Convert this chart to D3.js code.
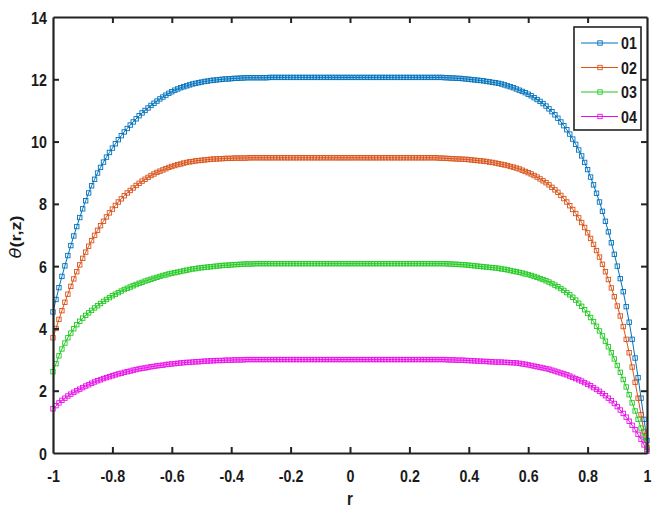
<!DOCTYPE html>
<html>
<head>
<meta charset="utf-8">
<script src="https://cdn.jsdelivr.net/npm/d3@7"></script>
<style>
  html, body { margin: 0; padding: 0; background: #fff; }
  svg { display: block; }
  .lbl { font-family: 'Liberation Sans', Arial, sans-serif; font-weight: bold; fill: #1a1a1a; }
</style>
</head>
<body>
<div id="chart"></div>
<script>
// Radial grid r = -1 ... 1 in steps of 0.01 (201 samples)
const rGrid = d3.range(201).map(i => Math.round((-1 + i * 0.01) * 100) / 100);

const seriesNames = ["01", "02", "03", "04"];

const theta01 = [
  4.53,4.93,5.31,5.67,6.01,6.34,6.66,6.97,7.27,7.56,
  7.84,8.10,8.35,8.58,8.79,8.99,9.17,9.34,9.50,9.65,
  9.79,9.93,10.06,10.19,10.31,10.42,10.53,10.63,10.73,10.83,
  10.92,11.00,11.08,11.16,11.23,11.30,11.37,11.43,11.49,11.55,
  11.60,11.65,11.69,11.73,11.76,11.79,11.82,11.85,11.87,11.89,
  11.91,11.93,11.94,11.96,11.97,11.98,11.99,12.00,12.01,12.01,
  12.02,12.03,12.03,12.04,12.04,12.05,12.05,12.05,12.05,12.05,
  12.05,12.05,12.05,12.06,12.06,12.06,12.06,12.06,12.06,12.06,
  12.06,12.06,12.06,12.06,12.06,12.06,12.06,12.06,12.06,12.06,
  12.06,12.06,12.06,12.06,12.06,12.06,12.06,12.06,12.06,12.06,
  12.06,12.06,12.06,12.06,12.06,12.06,12.06,12.06,12.06,12.06,
  12.06,12.06,12.06,12.06,12.06,12.06,12.06,12.06,12.06,12.06,
  12.06,12.06,12.06,12.06,12.06,12.06,12.06,12.06,12.06,12.06,
  12.06,12.06,12.05,12.05,12.04,12.04,12.03,12.03,12.02,12.01,
  12.00,11.99,11.98,11.97,11.96,11.95,11.93,11.92,11.90,11.89,
  11.87,11.85,11.82,11.79,11.76,11.73,11.69,11.65,11.61,11.57,
  11.52,11.47,11.41,11.35,11.29,11.22,11.14,11.05,10.96,10.86,
  10.75,10.63,10.51,10.38,10.24,10.08,9.91,9.73,9.54,9.33,
  9.10,8.86,8.61,8.34,8.06,7.76,7.44,7.10,6.75,6.38,
  6.00,5.60,5.18,4.70,4.20,3.65,3.05,2.42,1.76,1.08,
  0.40
];

const theta02 = [
  3.70,4.00,4.29,4.57,4.84,5.10,5.35,5.59,5.82,6.04,
  6.25,6.45,6.64,6.82,6.99,7.15,7.30,7.44,7.58,7.71,
  7.83,7.95,8.06,8.16,8.26,8.35,8.43,8.51,8.59,8.66,
  8.73,8.79,8.85,8.91,8.96,9.01,9.05,9.09,9.13,9.17,
  9.20,9.23,9.26,9.28,9.31,9.33,9.35,9.36,9.38,9.39,
  9.40,9.41,9.42,9.43,9.44,9.44,9.45,9.45,9.46,9.46,
  9.46,9.47,9.47,9.47,9.47,9.47,9.48,9.48,9.48,9.48,
  9.48,9.48,9.48,9.48,9.48,9.48,9.48,9.48,9.48,9.48,
  9.48,9.48,9.48,9.48,9.48,9.48,9.48,9.48,9.48,9.48,
  9.48,9.48,9.48,9.48,9.48,9.48,9.48,9.48,9.48,9.48,
  9.48,9.48,9.48,9.48,9.48,9.48,9.48,9.48,9.48,9.48,
  9.48,9.48,9.48,9.48,9.48,9.48,9.48,9.48,9.48,9.48,
  9.48,9.48,9.48,9.48,9.48,9.48,9.48,9.48,9.48,9.48,
  9.47,9.47,9.46,9.46,9.45,9.45,9.44,9.44,9.43,9.43,
  9.42,9.41,9.40,9.39,9.38,9.37,9.36,9.34,9.33,9.31,
  9.29,9.27,9.25,9.23,9.20,9.18,9.15,9.12,9.08,9.04,
  9.00,8.96,8.91,8.86,8.80,8.74,8.68,8.61,8.53,8.45,
  8.37,8.27,8.17,8.06,7.94,7.82,7.69,7.55,7.40,7.24,
  7.07,6.89,6.70,6.50,6.29,6.06,5.82,5.57,5.30,5.02,
  4.72,4.40,4.06,3.65,3.22,2.76,2.27,1.76,1.23,0.69,
  0.18
];

const theta03 = [
  2.61,2.87,3.12,3.34,3.53,3.70,3.85,3.99,4.12,4.23,
  4.33,4.42,4.50,4.58,4.66,4.73,4.80,4.87,4.93,4.99,
  5.05,5.10,5.15,5.20,5.25,5.29,5.33,5.37,5.41,5.45,
  5.48,5.52,5.55,5.58,5.61,5.64,5.67,5.70,5.72,5.75,
  5.77,5.79,5.81,5.83,5.85,5.87,5.89,5.91,5.92,5.94,
  5.95,5.96,5.97,5.98,5.99,6.00,6.01,6.02,6.03,6.03,
  6.04,6.05,6.05,6.06,6.06,6.07,6.07,6.07,6.08,6.08,
  6.08,6.08,6.08,6.08,6.08,6.08,6.08,6.08,6.08,6.08,
  6.08,6.08,6.08,6.08,6.08,6.08,6.08,6.08,6.08,6.08,
  6.08,6.08,6.08,6.08,6.08,6.08,6.08,6.08,6.08,6.08,
  6.08,6.08,6.08,6.08,6.08,6.08,6.08,6.08,6.08,6.08,
  6.08,6.08,6.08,6.08,6.08,6.08,6.08,6.08,6.08,6.08,
  6.08,6.08,6.08,6.08,6.08,6.08,6.08,6.08,6.08,6.08,
  6.08,6.08,6.08,6.07,6.07,6.06,6.06,6.05,6.05,6.04,
  6.03,6.02,6.01,6.00,5.99,5.98,5.97,5.96,5.95,5.94,
  5.93,5.91,5.90,5.88,5.86,5.84,5.82,5.80,5.78,5.75,
  5.73,5.70,5.67,5.64,5.60,5.57,5.53,5.49,5.44,5.39,
  5.34,5.28,5.22,5.15,5.08,5.00,4.91,4.81,4.71,4.60,
  4.48,4.35,4.22,4.07,3.92,3.76,3.59,3.41,3.22,3.02,
  2.81,2.59,2.36,2.12,1.87,1.61,1.35,1.08,0.80,0.51,
  0.12
];

const theta04 = [
  1.42,1.52,1.61,1.69,1.76,1.83,1.89,1.95,2.00,2.05,
  2.10,2.15,2.19,2.24,2.28,2.32,2.35,2.39,2.42,2.45,
  2.48,2.51,2.54,2.56,2.59,2.61,2.63,2.66,2.68,2.70,
  2.72,2.73,2.75,2.77,2.78,2.80,2.81,2.82,2.84,2.85,
  2.86,2.87,2.88,2.89,2.90,2.91,2.91,2.92,2.93,2.93,
  2.94,2.95,2.95,2.96,2.96,2.97,2.97,2.97,2.98,2.98,
  2.98,2.99,2.99,2.99,2.99,3.00,3.00,3.00,3.00,3.00,
  3.00,3.00,3.00,3.00,3.00,3.00,3.00,3.00,3.00,3.00,
  3.00,3.00,3.00,3.00,3.00,3.00,3.00,3.00,3.00,3.00,
  3.00,3.00,3.00,3.00,3.00,3.00,3.00,3.00,3.00,3.00,
  3.00,3.00,3.00,3.00,3.00,3.00,3.00,3.00,3.00,3.00,
  3.00,3.00,3.00,3.00,3.00,3.00,3.00,3.00,3.00,3.00,
  3.00,3.00,3.00,3.00,3.00,3.00,3.00,3.00,3.00,3.00,
  3.00,3.00,3.00,2.99,2.99,2.99,2.98,2.98,2.98,2.97,
  2.97,2.96,2.96,2.95,2.95,2.94,2.94,2.93,2.93,2.92,
  2.92,2.92,2.91,2.91,2.90,2.90,2.89,2.88,2.86,2.85,
  2.83,2.81,2.79,2.77,2.75,2.73,2.71,2.69,2.66,2.63,
  2.60,2.57,2.54,2.51,2.47,2.43,2.39,2.35,2.31,2.26,
  2.21,2.16,2.10,2.04,1.98,1.91,1.84,1.76,1.68,1.59,
  1.49,1.38,1.27,1.15,1.02,0.89,0.75,0.60,0.44,0.26,
  0.06
];

const xTicks = [-1, -0.8, -0.6, -0.4, -0.2, 0, 0.2, 0.4, 0.6, 0.8, 1];
const yTicks = [0, 2, 4, 6, 8, 10, 12, 14];
const seriesColors = ["#0072BD", "#D95319", "#22c922", "#e810e8"];

const W = 657, H = 510;
const margin = { left: 53, right: 10, top: 17, bottom: 57 };
const pw = W - margin.left - margin.right;
const ph = H - margin.top - margin.bottom;
const squeeze = 0.84;   // narrow bold lettering

const svg = d3.select("#chart").append("svg").attr("width", W).attr("height", H);
const g = svg.append("g").attr("transform", `translate(${margin.left},${margin.top})`);

const x = d3.scaleLinear().domain([-1, 1]).range([0, pw]);
const y = d3.scaleLinear().domain([0, 14]).range([ph, 0]);

const series = [theta01, theta02, theta03, theta04].map((vals, k) => ({
  name: seriesNames[k],
  color: seriesColors[k],
  points: vals.map((v, i) => ({ r: rGrid[i], v }))
}));

g.append("clipPath").attr("id", "plotclip")
  .append("rect").attr("x", -4).attr("y", -4).attr("width", pw + 8).attr("height", ph + 8);

const line = d3.line().x(d => x(d.r)).y(d => y(d.v));
const ms = 4.4;

const plot = g.append("g").attr("clip-path", "url(#plotclip)");
series.forEach(s => {
  const sg = plot.append("g");
  sg.append("path").datum(s.points)
    .attr("fill", "none").attr("stroke", s.color).attr("stroke-width", 1).attr("d", line);
  sg.selectAll("rect").data(s.points).join("rect")
    .attr("x", d => x(d.r) - ms / 2).attr("y", d => y(d.v) - ms / 2)
    .attr("width", ms).attr("height", ms)
    .attr("fill", "none").attr("stroke", s.color).attr("stroke-width", 0.9);
});

// Axes with inward ticks, MATLAB-style box
const tickLen = 6;
const axisColor = "#222";
const fmt = d => String(d);   // plain hyphen-minus, no leading-zero trimming
const xb = g.append("g").attr("transform", `translate(0,${ph})`)
  .call(d3.axisBottom(x).tickValues(xTicks).tickSizeInner(-tickLen).tickSizeOuter(0).tickFormat(fmt));
const xt = g.append("g")
  .call(d3.axisTop(x).tickValues(xTicks).tickSizeInner(-tickLen).tickSizeOuter(0).tickFormat(""));
const yl = g.append("g")
  .call(d3.axisLeft(y).tickValues(yTicks).tickSizeInner(-tickLen).tickSizeOuter(0).tickFormat(fmt));
const yr = g.append("g").attr("transform", `translate(${pw},0)`)
  .call(d3.axisRight(y).tickValues(yTicks).tickSizeInner(-tickLen).tickSizeOuter(0).tickFormat(""));

[xb, xt, yl, yr].forEach(a => {
  a.select(".domain").attr("stroke", axisColor).attr("stroke-width", 2.2);
  a.selectAll(".tick line").attr("stroke", axisColor).attr("stroke-width", 2);
});
// condensed tick labels placed by transform
xb.selectAll(".tick text")
  .attr("class", "lbl").attr("font-size", 17).attr("fill", "#1a1a1a")
  .attr("x", null).attr("y", null).attr("dy", null)
  .attr("text-anchor", "middle")
  .attr("transform", `translate(0,29) scale(${squeeze},1)`);
yl.selectAll(".tick text")
  .attr("class", "lbl").attr("font-size", 17).attr("fill", "#1a1a1a")
  .attr("x", null).attr("y", null).attr("dy", null)
  .attr("text-anchor", "end")
  .attr("transform", `translate(-6,6) scale(${squeeze},1)`);
[xb, xt].forEach(a => a.selectAll(".tick line").filter(d => d === -1 || d === 1).remove());
[yl, yr].forEach(a => a.selectAll(".tick line").filter(d => d === 0 || d === 14).remove());

// Axis titles
svg.append("text").attr("class", "lbl").attr("font-size", 18)
  .attr("transform", `translate(${margin.left + pw / 2},505) scale(${squeeze},1)`)
  .attr("text-anchor", "middle").text("r");

const yt = svg.append("text").attr("class", "lbl").attr("font-size", 18)
  .attr("transform", `translate(21,${margin.top + ph / 2 + 2}) rotate(-90) scale(1,${squeeze})`)
  .attr("text-anchor", "middle");
yt.append("tspan").attr("font-style", "italic").attr("font-weight", "normal")
  .attr("font-family", "'DejaVu Sans', sans-serif").text("θ");
yt.append("tspan").text("(r,z)");

// Legend
const lg = svg.append("g").attr("transform", "translate(574,27)");
lg.append("rect").attr("width", 67).attr("height", 103)
  .attr("fill", "#fff").attr("stroke", "#222").attr("stroke-width", 1.6);
series.forEach((s, k) => {
  const yy = 16 + k * 24.5;
  lg.append("line").attr("x1", 7).attr("x2", 44).attr("y1", yy).attr("y2", yy)
    .attr("stroke", s.color).attr("stroke-width", 1.2);
  lg.append("rect").attr("x", 26 - ms / 2).attr("y", yy - ms / 2).attr("width", ms).attr("height", ms)
    .attr("fill", "none").attr("stroke", s.color).attr("stroke-width", 0.9);
  lg.append("text").attr("class", "lbl").attr("font-size", 17)
    .attr("transform", `translate(47,${yy + 6}) scale(${squeeze},1)`).text(s.name);
});
</script>
</body>
</html>
